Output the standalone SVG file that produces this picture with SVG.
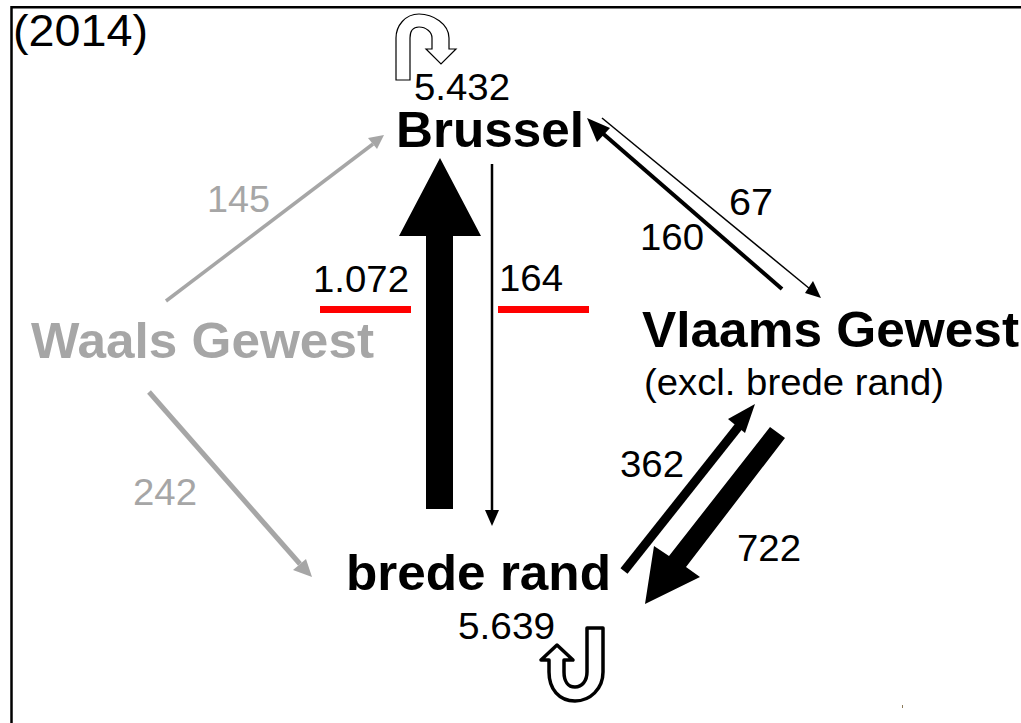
<svg xmlns="http://www.w3.org/2000/svg" width="1021" height="723" viewBox="0 0 1021 723">
<style>
text{font-family:"Liberation Sans",Arial,sans-serif;fill:#000}
.n{font-size:36px}
.b{font-size:50px;font-weight:bold}
.g{fill:#a6a6a6}
.l{stroke:#000;fill:none}
.lg{stroke:#a6a6a6;fill:none}
.hg{fill:#a6a6a6}
</style>
<rect width="1021" height="723" fill="#fff"/>
<path d="M11.500 723V7.200H1021" fill="none" stroke="#000" stroke-width="2.500"/>
<path d="M902 705h1v3h-1z" fill="#8a7a5a"/>
<text x="13" y="46" font-size="45" textLength="135" lengthAdjust="spacingAndGlyphs">(2014)</text>
<g id="connectors">
<path class="lg" stroke-width="3.500" d="M166 301L373 144"/><path class="hg" d="M384 135L377 149L368 138z"/>
<path class="lg" stroke-width="5" d="M149 392L300 564"/><path class="hg" d="M312 577L293 570L306 559z"/>
<path d="M426 509V236H399L440 158L481 236H453V509z" fill="#000"/>
<path class="l" stroke-width="2.500" d="M492 164V512"/><path d="M485 510L492 526L499 510z" fill="#000"/>
<path class="l" stroke-width="4" d="M782 289L600 131"/><path d="M587 118L610 128L597 142z" fill="#000"/>
<path class="l" stroke-width="1.500" d="M602 118L810 289"/><path d="M821 298L805 293L813 281z" fill="#000"/>
<path class="l" stroke-width="9" d="M624 571L743 421"/><path d="M755 404L745 433L728 419z" fill="#000"/>
<path d="M770 427L785 438L686 567L700 577L645 604L654 546L669 556z" fill="#000"/>
<path d="M320 306H411V313H320zM498 306H589V313H498z" fill="#f00"/>
</g>
<g id="loop-brussel">
<path d="M396 80V38C396 26 405 14 419 14C433 14 449 24 449 38V49H456L441 64L426 49H432V38C432 32 426 27 419 27C412 27 410 32 410 38V80z" fill="#fff" stroke="#000" stroke-width="1.200"/>
<text class="n" x="414" y="100" textLength="96" lengthAdjust="spacingAndGlyphs">5.432</text>
</g>
<g id="brussel"><text class="b" x="396" y="147" textLength="188" lengthAdjust="spacingAndGlyphs">Brussel</text></g>
<g id="waals"><text class="b g" x="31" y="358" textLength="343" lengthAdjust="spacingAndGlyphs">Waals Gewest</text></g>
<g id="vlaams"><text class="b" x="642" y="347" textLength="377" lengthAdjust="spacingAndGlyphs">Vlaams Gewest</text>
<text x="644" y="395" font-size="37" textLength="300" lengthAdjust="spacingAndGlyphs">(excl. brede rand)</text></g>
<g id="brede-rand"><text class="b" x="346" y="590" textLength="265" lengthAdjust="spacingAndGlyphs">brede rand</text></g>
<g id="loop-rand">
<text class="n" x="458" y="639" textLength="97" lengthAdjust="spacingAndGlyphs">5.639</text>
<path d="M587 628H603V672C603 689 590 701 575 701C559 701 549 689 549 672V660H541L557 645L573 660H564V672C564 681 568 687 575 687C582 687 587 681 587 672z" fill="#fff" stroke="#000" stroke-width="3.500" stroke-linejoin="round"/>
</g>
<g id="labels">
<text class="n g" x="207" y="212" textLength="63" lengthAdjust="spacingAndGlyphs">145</text>
<text class="n g" x="133" y="505" textLength="64" lengthAdjust="spacingAndGlyphs">242</text>
<text class="n" x="313" y="292" textLength="96" lengthAdjust="spacingAndGlyphs">1.072</text>
<text class="n" x="499" y="291" textLength="64" lengthAdjust="spacingAndGlyphs">164</text>
<text class="n" x="729" y="215" textLength="44" lengthAdjust="spacingAndGlyphs">67</text>
<text class="n" x="640" y="250" textLength="64" lengthAdjust="spacingAndGlyphs">160</text>
<text class="n" x="620" y="477" textLength="64" lengthAdjust="spacingAndGlyphs">362</text>
<text class="n" x="737" y="561" textLength="64" lengthAdjust="spacingAndGlyphs">722</text>
</g>
</svg>
